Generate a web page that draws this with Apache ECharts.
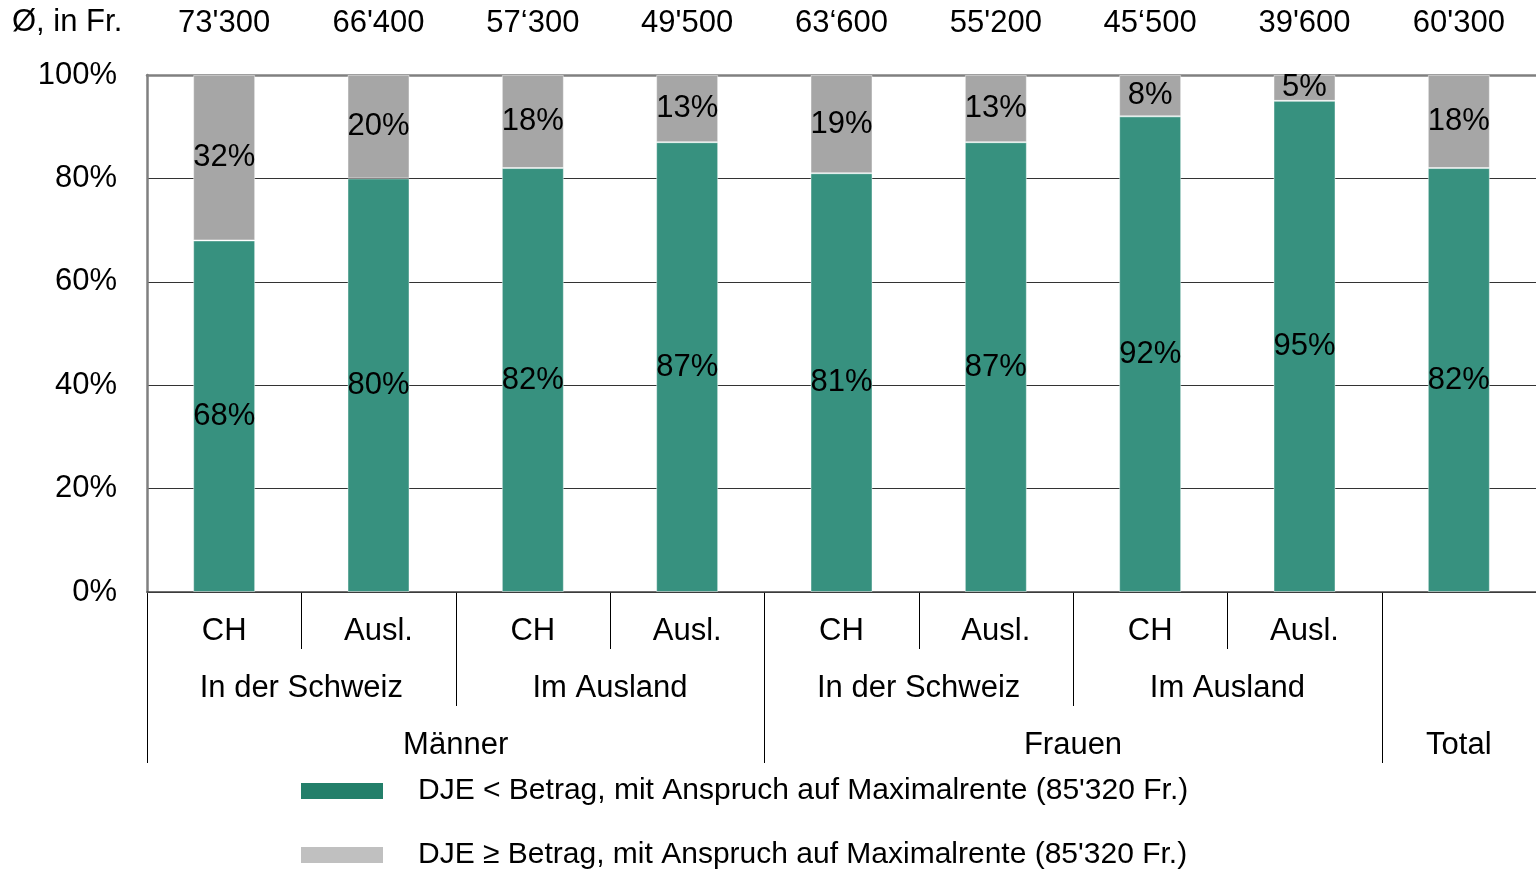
<!DOCTYPE html>
<html>
<head>
<meta charset="utf-8">
<script src="https://cdn.jsdelivr.net/npm/echarts@6/dist/echarts.min.js"></script>
<style>
  html, body { margin: 0; padding: 0; background: #fff; }
  #chart { width: 1536px; height: 872px; }
</style>
</head>
<body>
<div id="chart"></div>
<script>
// Stufe 1: Wohnsitz der Versicherten (CH / Ausl.)
const level1 = ['CH', 'Ausl.', 'CH', 'Ausl.', 'CH', 'Ausl.', 'CH', 'Ausl.', ''];
// Stufe 2: Wohnort
const level2 = ['In der Schweiz', 'Im Ausland', 'In der Schweiz', 'Im Ausland', ''];
const level2Span = [2, 2, 2, 2, 1];
// Stufe 3: Geschlecht
const level3 = ['Männer', 'Frauen', 'Total'];
const level3Span = [4, 4, 1];
// durchschnittliches Einkommen (oben)
const avgIncome = ["73'300", "66'400", "57‘300", "49'500", "63‘600", "55'200", "45‘500", "39'600", "60'300"];
// Anteile in %
const belowMax = [68, 80, 82, 87, 81, 87, 92, 95, 82];
const aboveMax = [32, 20, 18, 13, 19, 13, 8, 5, 18];
const yTicks = [0, 20, 40, 60, 80, 100];

const seriesNames = [
  "DJE < Betrag, mit Anspruch auf Maximalrente (85'320 Fr.)",
  "DJE ≥ Betrag, mit Anspruch auf Maximalrente (85'320 Fr.)"
];
const legendColors = ['#237f6a', '#c0c0c0'];

const FONT = "'Liberation Sans', Arial, sans-serif";
const FS = 31;
const GREEN = '#37917f';
const GREY = '#a6a6a6';

let chart = echarts.init(document.getElementById('chart'));

let barLabel = {
  show: true,
  position: 'inside',
  color: '#000',
  fontSize: FS,
  fontFamily: FONT,
  formatter: p => p.value + '%'
};

// je Serie eine eigene Legende, untereinander
let legends = seriesNames.map((name, i) => ({
  left: 296,
  top: 771 + i * 64,
  itemWidth: 82,
  itemHeight: 16,
  icon: 'rect',
  selectedMode: false,
  textStyle: { fontSize: 30, color: '#000', fontFamily: FONT, padding: [0, 0, 0, 30] },
  data: [{ name: name, itemStyle: { color: legendColors[i], borderWidth: 0 } }]
}));

let option = {
  animation: false,
  backgroundColor: '#fff',
  textStyle: { fontFamily: FONT },
  grid: { left: 147, right: 0, top: 75, bottom: 280, containLabel: false },
  legend: legends,
  xAxis: [
    {
      type: 'category',
      data: level1,
      position: 'bottom',
      axisLine: { show: true, lineStyle: { color: '#404040', width: 1.5 } },
      axisTick: { show: false },
      axisLabel: { fontSize: FS, color: '#000', fontFamily: FONT, margin: 24 },
      splitLine: { show: false }
    },
    {
      type: 'category',
      data: avgIncome,
      position: 'top',
      axisLine: { show: true, lineStyle: { color: '#808080', width: 2.5 } },
      axisTick: { show: false },
      axisLabel: { fontSize: FS, color: '#000', fontFamily: FONT, margin: 36 }
    }
  ],
  yAxis: {
    type: 'value',
    min: yTicks[0],
    max: yTicks[yTicks.length - 1],
    interval: 20,
    axisLine: { show: true, lineStyle: { color: '#808080', width: 2.5 } },
    axisTick: { show: false },
    axisLabel: { fontSize: FS, color: '#000', fontFamily: FONT, margin: 30, formatter: '{value}%' },
    splitLine: { show: true, lineStyle: { color: '#333', width: 1.2 } }
  },
  series: [
    {
      name: seriesNames[0],
      type: 'bar',
      stack: 'total',
      barWidth: 62,
      data: belowMax,
      itemStyle: { color: GREEN, borderColor: 'rgba(255,255,255,0.45)', borderWidth: 1 },
      label: barLabel
    },
    {
      name: seriesNames[1],
      type: 'bar',
      stack: 'total',
      barWidth: 62,
      data: aboveMax,
      itemStyle: { color: GREY, borderColor: 'rgba(255,255,255,0.45)', borderWidth: 1 },
      label: barLabel
    }
  ]
};

chart.setOption(option);

// Kategorien-Hierarchie unter der Achse
function drawHierarchy() {
  let c0 = chart.convertToPixel({ xAxisIndex: 0 }, 0);
  let c1 = chart.convertToPixel({ xAxisIndex: 0 }, 1);
  let step = c1 - c0;
  let edge = i => c0 - step / 2 + i * step;
  let y0 = chart.convertToPixel({ yAxisIndex: 0 }, 0);
  let els = [];

  let txt = (x, y, s) => ({
    type: 'text', x: x, y: y, silent: true,
    style: { text: s, fill: '#000', font: FS + 'px ' + FONT, textAlign: 'center', textVerticalAlign: 'middle' }
  });
  let line = (x, y1, y2) => ({
    type: 'line', silent: true,
    shape: { x1: Math.round(x) + 0.5, y1: y1, x2: Math.round(x) + 0.5, y2: y2 },
    style: { stroke: '#000', lineWidth: 1 }
  });

  let full = [0];
  let pos = 0;
  level3.forEach((name, i) => {
    els.push(txt(edge(pos + level3Span[i] / 2), y0 + 153, name));
    pos += level3Span[i];
    full.push(pos);
  });
  let mid = [];
  pos = 0;
  level2.forEach((name, i) => {
    if (name) els.push(txt(edge(pos + level2Span[i] / 2), y0 + 96, name));
    if (full.indexOf(pos) < 0) els.push(line(edge(pos), y0, y0 + 114));
    mid.push(pos);
    pos += level2Span[i];
  });
  // kurze Trennstriche zwischen CH und Ausl.
  for (let p = 1; p < level1.length; p++) {
    if (mid.indexOf(p) < 0 && full.indexOf(p) < 0) els.push(line(edge(p), y0, y0 + 57));
  }
  full.forEach(p => {
    if (p < level1.length) els.push(line(edge(p), y0, y0 + 171));
  });

  els.push({
    type: 'text', x: 12, y: 22, silent: true,
    style: { text: 'Ø, in Fr.', fill: '#000', font: FS + 'px ' + FONT, textVerticalAlign: 'middle' }
  });

  chart.setOption({ graphic: { elements: els } });
}
drawHierarchy();
</script>
</body>
</html>
